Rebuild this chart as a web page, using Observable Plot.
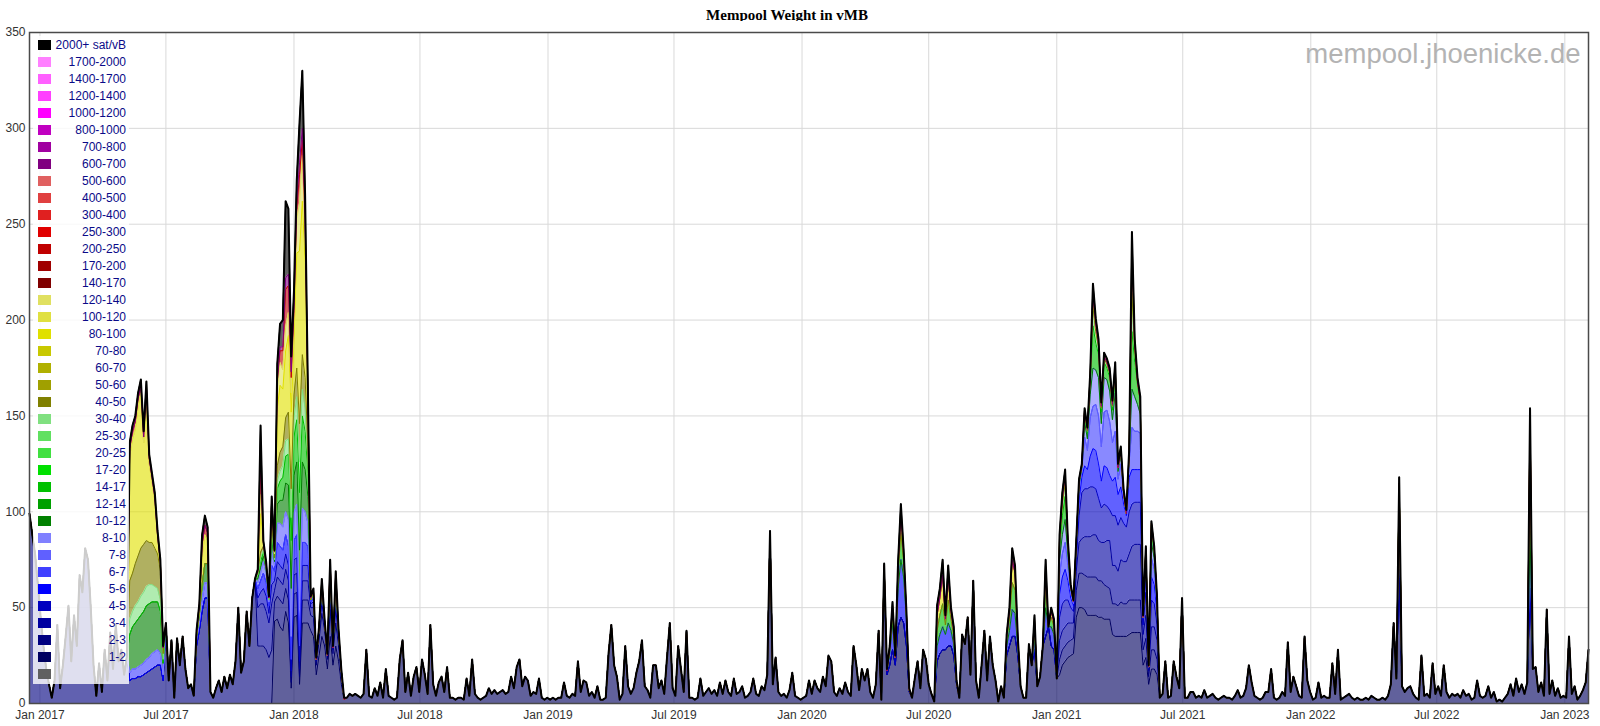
<!DOCTYPE html>
<html><head><meta charset="utf-8">
<script src="https://cdn.jsdelivr.net/npm/d3@7"></script>
<script src="https://cdn.jsdelivr.net/npm/@observablehq/plot@0.6"></script>
<style>
html,body{margin:0;padding:0;background:#fff;}
#wrap{position:relative;width:1600px;height:726px;overflow:hidden;font-family:"Liberation Sans",Arial,sans-serif;}
#title{position:absolute;left:0;top:6px;width:1574px;height:18px;line-height:18px;text-align:center;font-family:"Liberation Serif","Times New Roman",serif;font-weight:bold;font-size:15px;color:#000;}
#chart{position:absolute;left:0;top:21px;}
#legend{position:absolute;left:33px;top:36px;width:96px;height:648px;background:rgba(255,255,255,0.8);}
.row{position:absolute;left:0;width:96px;height:17px;}
.sw{position:absolute;left:5px;top:3.5px;width:13px;height:10px;}
.lb{position:absolute;right:3px;top:0;line-height:17px;font-size:12px;color:#0a0a88;white-space:nowrap;}
</style></head>
<body><div id="wrap"><div id="title">Mempool Weight in vMB</div><div id="chart"></div><div id="legend"></div></div>
<script>
// ---- categories (bottom to top) ----
const bandLabels = ["0-1","1-2","2-3","3-4","4-5","5-6","6-7","7-8","8-10","10-12","12-14","14-17","17-20","20-25","25-30","30-40","40-50","50-60","60-70","70-80","80-100","100-120","120-140","140-170","170-200","200-250","250-300","300-400","400-500","500-600","600-700","700-800","800-1000","1000-1200","1200-1400","1400-1700","1700-2000","2000+"];
const bandColors = ["#606060","#000060","#000080","#0000a0","#0000c0","#0000ff","#4040ff","#6060ff","#8080ff","#008000","#00a000","#00c000","#00e000","#40e040","#60e060","#80e080","#808000","#a0a000","#b0b000","#c8c800","#e0e000","#e0e040","#e0e060","#800000","#a00000","#c00000","#e00000","#e02020","#e04040","#e06060","#800080","#a000a0","#c000c0","#ff00ff","#ff40ff","#ff60ff","#ff80ff","#000000"];
const xTickLabels = ["2017-01-01","2017-07-01","2018-01-01","2018-07-01","2019-01-01","2019-07-01","2020-01-01","2020-07-01","2021-01-01","2021-07-01","2022-01-01","2022-07-01","2023-01-01"];
const yTicks = [0,50,100,150,200,250,300,350];
// samples every 4 days from this date; segments are [firstSample, values]
const START = "2016-12-17", STEP_DAYS = 4, N = 561;

// ---- 1-2 sat/vB ----
const v12_a = [43,44,40,38,48,42,8,45,46,10,42,42,42,38,35,15,25,35,30,18,35,20,30,22,10,2];
const v12_q1 = [3,5,4,5,4,3,5,28,4,3, 8,4,11,3,18,4,3,2,3,23, 33,6,16,4,14,19,6,23,15,5, 41,10,4,11,14,6,19,3,3,2,
 3,3,2,13,4,23,5,3,2,3, 4,8,5,7,5,6,7,5,6,14, 8,19,23,9,14,12,4,6,5,13, 3,2,3,2,3,2,3,3,11,4,
 3,5,4,22,6,12,11,4,6,3, 9,2,2,3,26,41,20,14,2,5, 30,9,5,8,16,22,33,9,7,3, 20,20,8,12,5,24,42,8,4,30,
 18,6,38,3,3,2,3,13,4,6, 8,5,7,4,11,5,12,6,4,13, 5,6,9,3,4,6,13,5,4,9, 7,15,90,10,24,6,4,5,3,7,
 16,4,3,2,3,4,12,5,12,8, 6,14,9,25,22,6,4,8,5,11, 6,4,30,20,7,18,12,18,6,3, 10,38,2];
const v12_b = [68,15,20,28,20,40,45,42,30,6];
const v12_c = [3,13,22,8,28,23,10,5,1];
const v12_d = [22,26,28,28,30,30,25,10];
const v12_e = [3,36,31,45,15,64,12,3,20,38,12,35,20,12,1,9,3];
const v12_f = [25,30,35,35,25];
const v12_g = [9,3,3,31,20,28,9,14,30,35,40,30,28,13];
const v12_h = [15,20,22,24,25,26,45,50,50,49,46,46,46,46,45,45,44,44,44,36,35,35,35,35,35,36,37,37,37,37,20,24,10,18,18,15];
const v12_q2 = [3,5,22,3,4,22,14,8,55,3, 3,6,6,3,4,3,7,3,4,5, 3,2,3,4,3,3,2,4,7,3, 4,8,20,11,4,3,2,3,6,6,
 18,3,2,3,6,4,32,6,14,9, 4,3,35,12,6,2,3,11,3,4, 3,3,21,5,28,2,3,4,5,3, 2,3,2,2,3,2,4,3,2,2,
 3,2,4,10,42,13,70,9,6,8, 9,5,3,2,25,4,5,3,21,5, 9,4,20,6,3,5,4,5,3,7, 4,5,2,3,12,4,3,4,9,3,
 6,1,2,1,3,5,10,4,13,6, 10,5,11,60,18,19,6,11,4,49, 5,12,4,8,3,4,3,35,5,9, 2,4,7,11,28];
// ---- 2-3 sat/vB ----
const v23_a = [99,88,78,62,45,30,18,10,3,12,41,8,20,35,51,22,46,30,67,58,81,75,50,20,4,21,6,28,12,37,18,41,22,28,15,25];
const v23_b = [12,13,13,14,14,15,16,17,18,19,20,20,12];
const v23_c = [42,12,33,3,34,20,35,18,8,10,4];
const v23_d = [30,38,48,55,55];
const v23_e = [6,3,8,12,6,14,8,15,10,22,50,16,22,48,30,55,65];
const v23_f = [30,30,30,28,24,28];
const v23_g = [10,12,14,14,12,12,3,12,12,4,12,12,12,8,10,5,8,12,8,5,14,6,12,8,4,0];
const v23_h = [8,8,8,8,8,8,14,18,18,18,20,20,20,20,19,19,18,17,16,16,17,16,18,17,17,18,17,17,17,17,8,10,4,10,10,8];
// ---- 3-4 / 4-5 / 5-6 / 6-7 / 7-8 / 8-10 ----
const v34_a = [20,22,22,20,18,24,6,10,10,10,10,10,3,10,10,4,10,10,10,4,5,2,3,6,3,2,8,2,8,4,2,0];
const v34_b = [10,10,10,10,9,8,10,16,18,20,21,21,22,22,21,20,22,24,25,20,20,18,22,22,22,24,28,29,29,29,8,12,3,12,12,10];
const v45_a = [5,6,8,8,5,10,5,8,8,8,8,8,3,8,8,4,8,8,8,2,3,1,2,4,1,0,6,1,6,2,1,0];
const v45_b = [12,14,14,12,8,6,6,14,24,25,25,26,25,24,22,18,20,18,16,26,26,24,22,20,18,22,22,22,22,22,5,12,1,14,12,8];
const v56_a = [5,6,8,7,4,10,5,10,10,10,10,10,6,10,12,8,12,12,10,1,2,0,1,3,1,0,4,0,4,1,0,0];
const v56_b = [3,2,6,14,4,20,30,24,14,1];
const v56_c = [8,10,12,8,12,8,6,1];
const v56_d = [5,8,14,12,5];
const v56_e = [12,14,16,10,5,3,4,8,8,12,10,16,20,20,18,14,20,20,18,18,20,16,16,10,6,18,18,17,17,17,3,10,1,12,10,6];
const v67_a = [4,5,5,5,6,6,7,7,8,8,8,6,3];
const v67_b = [3,4,6,8,8];
const v67_c = [10,12,14,8,3,1,2,5,4,15,10,20,22,24,25,18,28,30,28,20,24,8,12,4,1,8,22,20,20,19,1,6,0,10,8,4];
const v78_a = [3,4,6,5,2,8,3,10,12,12,12,14,12,14,16,20,18,16,12,1,1,0,0,1,0,0,2,0,2,0,0,0];
const v810_a = [8,10,12,6,2,1,2,3,1,8,6,12,20,18,20,12,18,16,16,12,20,4,5,2,0,3,20,18,14,10,0,4,0,8,6,2];
// ---- greens ----
const v1012_a = [20,22,24,25,26,27,28,28,27,26,25,22,6];
const v1012_b = [2,4,8,10,10];
const v1012_c = [2,3,3,2,1,6,2,10,12,14,15,18,25,20,22,30,24,22,14,0,1,0,0,1,0,0,1,0,1,0,0,0];
const v1417_a = [2,3,2,1,0,4,1,8,10,12,14,16,25,20,22,30,24,20,12,0,0,0,0,0,0,0,1,0,1,0,0,0];
const v1417_b = [1,0,2,5,0,8,14,8,2,0];
const v1417_c = [8,10,12,5,12,6,4,0];
const v1417_d = [3,6,14,12,3];
const v1417_e = [6,10,12,3,1,0,1,1,1,4,3,6,22,14,12,6,8,6,7,5,10,2,2,0,0,1,30,18,9,6,0,2,0,6,3,1];
const v3040_a = [8,8,9,9,10,10,10,10,9,8,7,6,2];
const v3040_b = [0,2,1,0,0,2,0,4,5,6,8,8,12,10,12,16,14,12,6];
const v3040_c = [3,6,7,2,0,0,0,1,0,1,1,2,10,6,4,2,2,2,2,2,3,0,0,0,0,0,20,6,2,1,0,1,0,3,1,0];
// ---- yellows ----
const v4050_a = [20,20,22,24,25,25,24,22,22,20,18,15,3];
const v4050_b = [1,3,2,1,1,3,1,8,10,10,12,14,15,12,15,20,18,16,8,0,1,0,0,1,0,0,1,0,1,0,0,0];
const v80100_a = [65,70,70,78,81,53,76,41,32,25,9,5,3];
const v80100_b = [1,3,15,15,12];
const v80100_c = [1,20,2,1,0,8,2,30,35,30,35,40,40,30,60,90,80,60,20,1,1,0,0,1,0,0,1,0,1,1,0,0];
const v80100_d = [0,0,1,4,0,4,10,4,1,0];
const v80100_e = [8,9,15,3,12,4,3,0];
const v80100_f = [2,4,12,9,1];
const v80100_g = [2,3,4,1,0,0,0,0,0,1,1,1,6,4,2,1,1,1,1,1,1,0,0,0,0,0,22,4,1,0,0,0,0,1,1,1];
const v120140_a = [0,10,0,0,0,2,0,10,12,10,12,12,10,8,18,25,24,16,4];
// ---- reds / purples / black ----
const v200250_a = [4,4,4,4,4,3,4,3,2,2,1,0,0];
const v200250_b = [1,2,6,5,4];
const v200250_c = [0,15,0,0,0,2,1,4,6,10,20,14,8,6,6,15,8,6,2,0,0,0,0,0,0,0,1,0,1,0,0,0];
const v600700_a = [0,6,0,0,0,0,0,0,2,2,6,6,3,2,3,6,6,4,1,0,0,0,0,0,0,0,0,0,1,0,0,0];
const v2000_a = [3,3,3,3,3,3,3,2,2,2,2,1,1];
const v2000_b = [1,1,5,5,3];
const v2000_c = [1,15,1,1,1,1,1,9,12,14,40,34,8,8,11,21,30,9,3,1,1,1,1,1,1,1,1,1,1,1,1,1];
const v2000_d = [1,1,1,2,1,2,5,2,1,1];
const v2000_e = [5,5,8,2,6,2,2,1];
const v2000_f = [1,2,6,4,1];
const v2000_g = [2,3,3,1,1,1,1,1,1,1,1,2,6,3,2,2,2,2,2,2,2,2,2,2,2,2,10,2,2,2,1,1,1,1,1,1];

const series = {
  "1-2": [[88,v12_a],[114,v12_q1],[307,v12_b],[317,v12_c],[326,v12_d],[334,v12_e],[351,v12_f],[356,v12_g],[370,v12_h],[406,v12_q2]],
  "2-3": [[0,v23_a],[36,v23_b],[49,v23_c],[60,v23_d],[65,v23_e],[82,v23_f],[88,v23_g],[370,v23_h]],
  "3-4": [[82,v34_a],[370,v34_b]],
  "4-5": [[82,v45_a],[370,v45_b]],
  "5-6": [[82,v56_a],[307,v56_b],[326,v56_c],[351,v56_d],[361,[8]],[365,[15]],[367,[10,8]],[370,v56_e],[492,[40]],[539,[30]]],
  "6-7": [[36,v67_a],[60,v67_b],[370,v67_c]],
  "7-8": [[82,v78_a]],
  "8-10": [[370,v810_a]],
  "10-12": [[36,v1012_a],[60,v1012_b],[82,v1012_c]],
  "14-17": [[82,v1417_a],[307,v1417_b],[326,v1417_c],[351,v1417_d],[361,[5]],[365,[12]],[367,[5,4]],[370,v1417_e],[492,[5]],[539,[50]]],
  "30-40": [[36,v3040_a],[82,v3040_b],[370,v3040_c]],
  "40-50": [[36,v4050_a],[82,v4050_b]],
  "80-100": [[36,v80100_a],[60,v80100_b],[82,v80100_c],[307,v80100_d],[326,v80100_e],[351,v80100_f],[361,[3]],[365,[9]],[367,[3,2]],[370,v80100_g],[539,[10]]],
  "120-140": [[82,v120140_a]],
  "200-250": [[36,v200250_a],[60,v200250_b],[82,v200250_c]],
  "600-700": [[82,v600700_a]],
  "2000+": [[36,v2000_a],[60,v2000_b],[82,v2000_c],[307,v2000_d],[326,v2000_e],[351,v2000_f],[361,[2]],[365,[4]],[367,[2,2]],[370,v2000_g],[492,[3]],[539,[4]]]
};

// ---- build long table ----
const t0 = new Date(START + "T00:00:00Z");
const dates = d3.range(N).map(i => d3.utcDay.offset(t0, i * STEP_DAYS));
const rows = [];
for (const band of bandLabels) {
  const segs = series[band];
  if (!segs) continue;
  const vals = new Float64Array(N);
  for (const [from, arr] of segs) arr.forEach((v, j) => { if (from + j < N) vals[from + j] += v; });
  for (let i = 0; i < N; i++) rows.push({date: dates[i], band, value: vals[i]});
}
const xTicks = xTickLabels.map(s => new Date(s + "T00:00:00Z"));

const chart = Plot.plot({
  width: 1600, height: 705,
  marginTop: 11, marginBottom: 23, marginLeft: 29, marginRight: 12,
  x: {type: "utc", domain: [dates[0], dates[N - 1]]},
  y: {domain: [0, 350]},
  color: {domain: bandLabels, range: bandColors},
  style: {fontFamily: "'Liberation Sans', Arial, sans-serif", fontSize: "12px", color: "#333", background: "#fff"},
  marks: [
    Plot.gridX(xTicks, {stroke: "#d9d9d9", strokeOpacity: 1}),
    Plot.gridY(yTicks, {stroke: "#d9d9d9", strokeOpacity: 1}),
    Plot.areaY(rows, Plot.stackY({x: "date", y: "value", z: "band", fill: "band", order: bandLabels, fillOpacity: 0.62})),
    Plot.lineY(rows, Plot.stackY2({x: "date", y: "value", z: "band", stroke: "band", order: bandLabels, strokeWidth: 1})),
    Plot.lineY(rows, Plot.groupX({y: "sum"}, {x: "date", y: "value", stroke: "#000", strokeWidth: 2})),
    Plot.text(["mempool.jhoenicke.de"], {text: d => d, frameAnchor: "top-right", dx: -8, dy: 11, fontSize: 27.5, fill: "#b3b3b3", textAnchor: "end", lineAnchor: "top"}),
    Plot.frame({stroke: "#4a4a4a", strokeWidth: 1.5}),
    Plot.axisX(xTicks, {tickFormat: d3.utcFormat("%b %Y"), tickSize: 0, tickPadding: 7, label: null}),
    Plot.axisY(yTicks, {tickSize: 0, tickPadding: 4, label: null})
  ]
});
document.getElementById("chart").appendChild(chart);

// ---- legend (top = highest fee band) ----
const leg = document.getElementById("legend");
bandLabels.slice().reverse().forEach((b, k) => {
  const idx = bandLabels.indexOf(b);
  const row = document.createElement("div");
  row.className = "row";
  row.style.top = (0.5 + k * 17) + "px";
  const sw = document.createElement("div");
  sw.className = "sw";
  sw.style.background = bandColors[idx];
  row.appendChild(sw);
  const lb = document.createElement("div");
  lb.className = "lb";
  lb.textContent = b === "2000+" ? "2000+ sat/vB" : (b === "0-1" ? "" : b);
  row.appendChild(lb);
  leg.appendChild(row);
});
</script></body></html>
